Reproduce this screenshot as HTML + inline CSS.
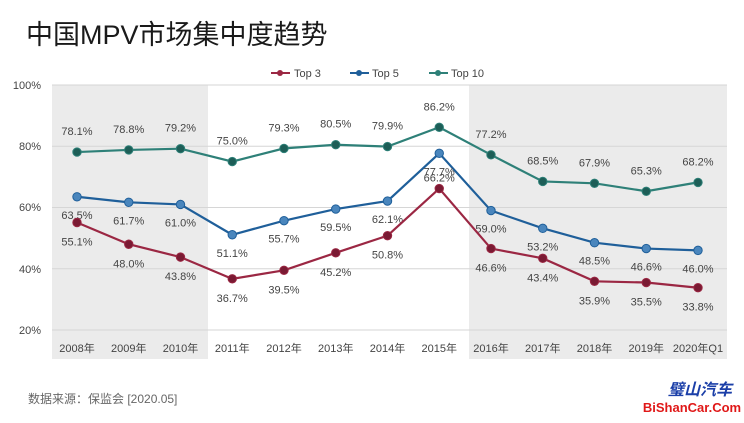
<!DOCTYPE html>
<html><head><meta charset="utf-8"><style>
body{margin:0;background:#fff;width:744px;height:418px;overflow:hidden}
svg text{font-family:"Liberation Sans","Noto Sans CJK SC",sans-serif}
</style></head><body>
<svg width="744" height="418" viewBox="0 0 744 418" xmlns="http://www.w3.org/2000/svg">
<text x="26" y="44" font-size="27" fill="#1a1a1a">中国MPV市场集中度趋势</text>
<rect x="52" y="85" width="156" height="274" fill="#ebebeb"/>
<rect x="469" y="85" width="258" height="274" fill="#ebebeb"/>
<g stroke="#d6d6d6" stroke-width="1">
<line x1="52" y1="85" x2="727" y2="85"/><line x1="52" y1="146.25" x2="727" y2="146.25"/>
<line x1="52" y1="207.5" x2="727" y2="207.5"/><line x1="52" y1="268.75" x2="727" y2="268.75"/>
<line x1="52" y1="330" x2="727" y2="330"/></g>
<g font-size="11" fill="#444" text-anchor="end">
<text x="41" y="89">100%</text><text x="41" y="150">80%</text><text x="41" y="211">60%</text><text x="41" y="273">40%</text><text x="41" y="334">20%</text></g>
<g font-size="11" fill="#444" text-anchor="middle" id="xl"></g>
<g font-size="11" fill="#444">
<line x1="271" y1="73" x2="290" y2="73" stroke="#9b2743" stroke-width="2"/><circle cx="280" cy="73" r="3" fill="#9b2743"/><text x="294" y="77">Top 3</text>
<line x1="350" y1="73" x2="369" y2="73" stroke="#1f5f9a" stroke-width="2"/><circle cx="359" cy="73" r="3" fill="#1f5f9a"/><text x="372" y="77">Top 5</text>
<line x1="429" y1="73" x2="448" y2="73" stroke="#2e8078" stroke-width="2"/><circle cx="438" cy="73" r="3" fill="#2e8078"/><text x="451" y="77">Top 10</text>
</g>
<g id="series"></g>
<text x="28" y="403" font-size="12" fill="#666">数据来源：保监会 [2020.05]</text>
<text x="700" y="395" font-size="16" fill="#1b3fa8" text-anchor="middle" font-weight="bold" font-style="italic">璧山汽车</text>
<text x="692" y="412" font-size="13" fill="#e01818" text-anchor="middle" font-weight="bold">BiShanCar.Com</text>
</svg>
<script>
const xs=i=>77+i*51.75, ys=v=>330-(v-20)*3.0625;
const yrs=["2008年","2009年","2010年","2011年","2012年","2013年","2014年","2015年","2016年","2017年","2018年","2019年","2020年Q1"];
const NS="http://www.w3.org/2000/svg";
const xl=document.getElementById("xl");
yrs.forEach((y,i)=>{const t=document.createElementNS(NS,"text");t.setAttribute("x",xs(i));t.setAttribute("y",352);t.textContent=y;xl.appendChild(t);});
const S=[
{c:"#2e8078",f:"#1d5e57",d:[78.1,78.8,79.2,75.0,79.3,80.5,79.9,86.2,77.2,68.5,67.9,65.3,68.2],o:-21},
{c:"#1f5f9a",f:"#4a86bd",d:[63.5,61.7,61.0,51.1,55.7,59.5,62.1,77.7,59.0,53.2,48.5,46.6,46.0],o:18},
{c:"#9b2743",f:"#7a1a33",d:[55.1,48.0,43.8,36.7,39.5,45.2,50.8,66.2,46.6,43.4,35.9,35.5,33.8],o:19}];
const g=document.getElementById("series");let h="";
S.forEach((s,k)=>{h+=`<polyline fill="none" stroke="${s.c}" stroke-width="2.2" points="${s.d.map((v,i)=>xs(i)+","+ys(v)).join(" ")}"/>`;
s.d.forEach((v,i)=>{h+=`<circle cx="${xs(i)}" cy="${ys(v)}" r="4.2" fill="${s.f}" stroke="${s.c}" stroke-width="1"/>`;
let o=s.o; if(k==2&&i==7)o=-11;
h+=`<text x="${xs(i)}" y="${ys(v)+o+4}" font-size="11" fill="#444" text-anchor="middle">${v.toFixed(1)}%</text>`;});});
g.innerHTML=h;
</script>
</body></html>
